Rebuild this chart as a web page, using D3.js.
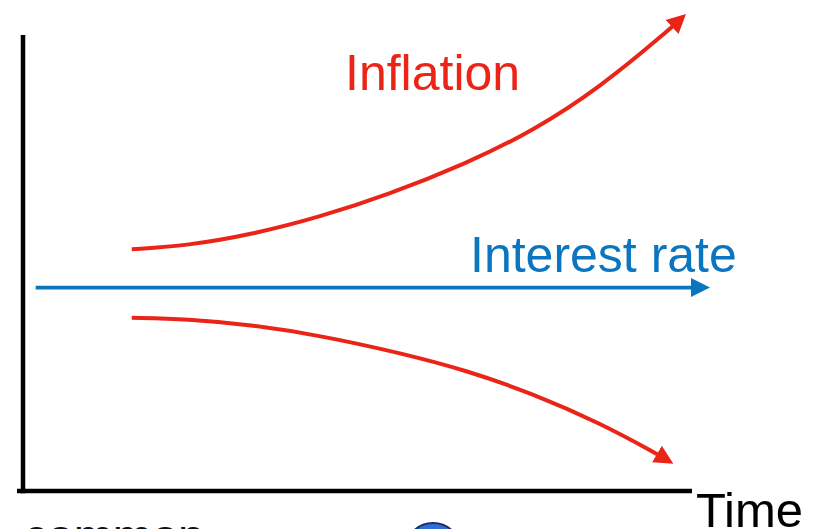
<!DOCTYPE html>
<html>
<head>
<meta charset="utf-8">
<script src="https://cdn.jsdelivr.net/npm/d3@7"></script>
<style>
  html, body { margin: 0; padding: 0; background: #fff; overflow: hidden; }
  svg { display: block; }
  text { font-family: "Liberation Sans", Arial, Helvetica, sans-serif; }
</style>
</head>
<body>
<script>
// ---- data (time units 0..100, level units 0..100) ----
const timeUpper      = [16.3, 24.6, 34.5, 44.5, 54.6, 66.6, 76.5, 86.5, 96.6, 99.4];
const inflationUpper = [53.0, 53.8, 56.3, 60.1, 64.9, 71.9, 79.0, 88.5, 100.8, 104.6];
const timeLower      = [16.3, 24.6, 34.5, 44.5, 56.5, 66.6, 76.5, 86.5, 94.5, 97.5];
const inflationLower = [38.0, 37.75, 36.4, 34.1, 30.3, 26.4, 21.3, 14.9, 8.6, 6.0];
const timeRate       = [1.9, 103.0];
const interestRate   = [44.6, 44.6];
const labels = { inflation: "Inflation", rate: "Interest rate", xAxis: "Time", footer: "common" };

const W = 819, H = 529;
const RED = "#ea2416", BLUE = "#0c75bf";

const x = d3.scaleLinear().domain([0, 100]).range([23, 690]);
const y = d3.scaleLinear().domain([0, 100]).range([491, 35]);

const svg = d3.select("body").append("svg").attr("width", W).attr("height", H);

const defs = svg.append("defs");
function marker(id, color) {
  defs.append("marker")
    .attr("id", id)
    .attr("markerUnits", "userSpaceOnUse")
    .attr("viewBox", "0 -10 20 20")
    .attr("refX", 19).attr("refY", 0)
    .attr("markerWidth", 20).attr("markerHeight", 20)
    .attr("orient", "auto")
    .append("path")
    .attr("d", "M0,-9.5L19,0L0,9.5Z")
    .attr("fill", color);
}
marker("arrRed", RED);
marker("arrBlue", BLUE);

// axes (no ticks)
svg.append("line")
  .attr("x1", x(0)).attr("x2", x(0))
  .attr("y1", y(100)).attr("y2", y(-0.5))
  .attr("stroke", "#000").attr("stroke-width", 4.5);
svg.append("line")
  .attr("x1", x(-0.9)).attr("x2", x(100.3))
  .attr("y1", y(0)).attr("y2", y(0))
  .attr("stroke", "#000").attr("stroke-width", 4.5);

const line = d3.line().x(d => x(d[0])).y(d => y(d[1])).curve(d3.curveBasis);

function arrowPath(ts, vs, color, mk, sw) {
  const pts = ts.map((t, i) => [t, vs[i]]);
  const p = svg.append("path")
    .attr("d", line(pts))
    .attr("fill", "none")
    .attr("stroke", color)
    .attr("stroke-width", sw)
    .attr("marker-end", `url(#${mk})`);
  const L = p.node().getTotalLength();
  p.attr("stroke-dasharray", `${L - 14} ${L}`);
}

arrowPath(timeUpper, inflationUpper, RED, "arrRed", 4);
arrowPath(timeLower, inflationLower, RED, "arrRed", 4);
arrowPath(timeRate, interestRate, BLUE, "arrBlue", 3.6);

// labels
svg.append("text").attr("x", 345).attr("y", 90)
  .attr("font-size", 50).attr("fill", RED).text(labels.inflation);
svg.append("text").attr("x", 470).attr("y", 272)
  .attr("font-size", 50).attr("fill", BLUE).text(labels.rate);
svg.append("text").attr("x", 696).attr("y", 527)
  .attr("font-size", 49).attr("fill", "#000").text(labels.xAxis);

// cropped footer remnants
svg.append("text").attr("x", 24).attr("y", 552)
  .attr("font-size", 47).attr("fill", "#111").text(labels.footer);
svg.append("circle").attr("cx", 433).attr("cy", 551).attr("r", 28)
  .attr("fill", "#2f6fd6").attr("stroke", "#1a2f6a").attr("stroke-width", 2);
</script>
</body>
</html>
